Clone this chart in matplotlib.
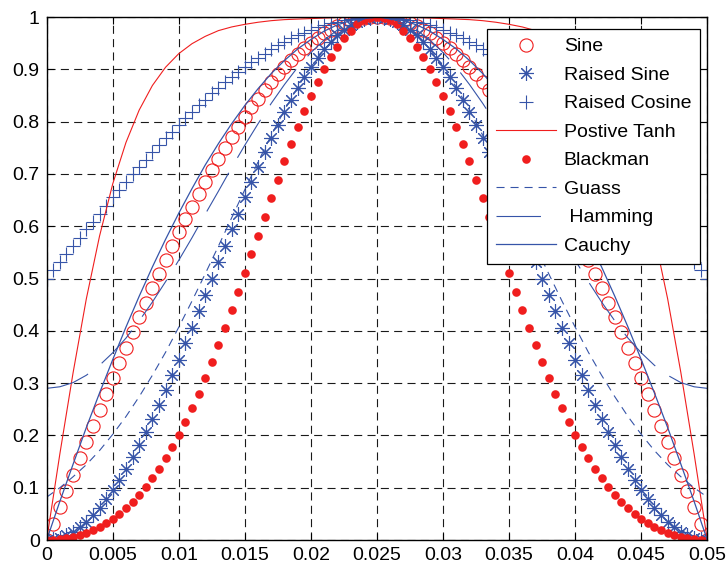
import numpy as np
import matplotlib
matplotlib.use('Agg')
import matplotlib.pyplot as plt

plt.rcParams['font.family'] = ['Liberation Sans', 'DejaVu Sans']
plt.rcParams['lines.scale_dashes'] = False

# ---- data ----
x_ticks = [0, 0.005, 0.01, 0.015, 0.02, 0.025, 0.03, 0.035, 0.04, 0.045, 0.05]
x_tick_labels = ['0', '0.005', '0.01', '0.015', '0.02', '0.025', '0.03', '0.035', '0.04', '0.045', '0.05']
y_ticks = [0, 0.1, 0.2, 0.3, 0.4, 0.5, 0.6, 0.7, 0.8, 0.9, 1.0]
y_tick_labels = ['0', '0.1', '0.2', '0.3', '0.4', '0.5', '0.6', '0.7', '0.8', '0.9', '1']

x_mark = np.linspace(0, 0.05, 101)   # marker sample positions
x_line = np.linspace(0, 0.05, 51)    # line sample positions

sine = [0.000, 0.031, 0.063, 0.094, 0.125, 0.156, 0.187, 0.218, 0.249, 0.279,
        0.309, 0.339, 0.368, 0.397, 0.426, 0.454, 0.482, 0.509, 0.536, 0.562,
        0.588, 0.613, 0.637, 0.661, 0.685, 0.707, 0.729, 0.750, 0.771, 0.790,
        0.809, 0.827, 0.844, 0.861, 0.876, 0.891, 0.905, 0.918, 0.930, 0.941,
        0.951, 0.960, 0.969, 0.976, 0.982, 0.988, 0.992, 0.996, 0.998, 1.000, 1.000,
        1.000, 0.998, 0.996, 0.992, 0.988, 0.982, 0.976, 0.969, 0.960, 0.951,
        0.941, 0.930, 0.918, 0.905, 0.891, 0.876, 0.861, 0.844, 0.827, 0.809,
        0.790, 0.771, 0.750, 0.729, 0.707, 0.685, 0.661, 0.637, 0.613, 0.588,
        0.562, 0.536, 0.509, 0.482, 0.454, 0.426, 0.397, 0.368, 0.339, 0.309,
        0.279, 0.249, 0.218, 0.187, 0.156, 0.125, 0.094, 0.063, 0.031, 0.000]

raised_sine = [0.000, 0.001, 0.004, 0.009, 0.016, 0.024, 0.035, 0.048, 0.062, 0.078,
               0.095, 0.115, 0.136, 0.158, 0.181, 0.206, 0.232, 0.259, 0.287, 0.316,
               0.345, 0.376, 0.406, 0.437, 0.469, 0.500, 0.531, 0.563, 0.594, 0.624,
               0.655, 0.684, 0.713, 0.741, 0.768, 0.794, 0.819, 0.842, 0.864, 0.885,
               0.905, 0.922, 0.938, 0.952, 0.965, 0.976, 0.984, 0.991, 0.996, 0.999, 1.000,
               0.999, 0.996, 0.991, 0.984, 0.976, 0.965, 0.952, 0.938, 0.922, 0.905,
               0.885, 0.864, 0.842, 0.819, 0.794, 0.768, 0.741, 0.713, 0.684, 0.655,
               0.624, 0.594, 0.563, 0.531, 0.500, 0.469, 0.437, 0.406, 0.376, 0.345,
               0.316, 0.287, 0.259, 0.232, 0.206, 0.181, 0.158, 0.136, 0.115, 0.095,
               0.078, 0.062, 0.048, 0.035, 0.024, 0.016, 0.009, 0.004, 0.001, 0.000]

raised_cosine = [0.500, 0.516, 0.531, 0.547, 0.563, 0.578, 0.594, 0.609, 0.624, 0.639,
                 0.655, 0.669, 0.684, 0.699, 0.713, 0.727, 0.741, 0.755, 0.768, 0.781,
                 0.794, 0.806, 0.819, 0.831, 0.842, 0.854, 0.864, 0.875, 0.885, 0.895,
                 0.905, 0.914, 0.922, 0.930, 0.938, 0.946, 0.952, 0.959, 0.965, 0.970,
                 0.976, 0.980, 0.984, 0.988, 0.991, 0.994, 0.996, 0.998, 0.999, 1.000, 1.000,
                 1.000, 0.999, 0.998, 0.996, 0.994, 0.991, 0.988, 0.984, 0.980, 0.976,
                 0.970, 0.965, 0.959, 0.952, 0.946, 0.938, 0.930, 0.922, 0.914, 0.905,
                 0.895, 0.885, 0.875, 0.864, 0.854, 0.842, 0.831, 0.819, 0.806, 0.794,
                 0.781, 0.768, 0.755, 0.741, 0.727, 0.713, 0.699, 0.684, 0.669, 0.655,
                 0.639, 0.624, 0.609, 0.594, 0.578, 0.563, 0.547, 0.531, 0.516, 0.500]

blackman = [0.000, 0.000, 0.001, 0.003, 0.006, 0.009, 0.013, 0.019, 0.025, 0.032,
            0.040, 0.050, 0.061, 0.073, 0.086, 0.101, 0.118, 0.136, 0.156, 0.178,
            0.201, 0.226, 0.252, 0.280, 0.309, 0.340, 0.372, 0.405, 0.439, 0.474,
            0.510, 0.546, 0.582, 0.618, 0.654, 0.689, 0.724, 0.757, 0.790, 0.820,
            0.849, 0.876, 0.901, 0.923, 0.943, 0.960, 0.974, 0.986, 0.994, 0.998, 1.000,
            0.998, 0.994, 0.986, 0.974, 0.960, 0.943, 0.923, 0.901, 0.876, 0.849,
            0.820, 0.790, 0.757, 0.724, 0.689, 0.654, 0.618, 0.582, 0.546, 0.510,
            0.474, 0.439, 0.405, 0.372, 0.340, 0.309, 0.280, 0.252, 0.226, 0.201,
            0.178, 0.156, 0.136, 0.118, 0.101, 0.086, 0.073, 0.061, 0.050, 0.040,
            0.032, 0.025, 0.019, 0.013, 0.009, 0.006, 0.003, 0.001, 0.000, 0.000]

pos_tanh = [0.000, 0.165, 0.320, 0.461, 0.581, 0.681, 0.760, 0.822, 0.869, 0.904,
            0.930, 0.949, 0.963, 0.974, 0.981, 0.986, 0.990, 0.993, 0.995, 0.996,
            0.997, 0.998, 0.999, 0.999, 0.999, 1.000,
            0.999, 0.999, 0.999, 0.998, 0.997, 0.996, 0.995, 0.993, 0.990, 0.986,
            0.981, 0.974, 0.963, 0.949, 0.930, 0.904, 0.869, 0.822, 0.760, 0.681,
            0.581, 0.461, 0.320, 0.165, 0.000]

gauss = [0.082, 0.100, 0.121, 0.144, 0.171, 0.202, 0.236, 0.274, 0.315, 0.359,
         0.407, 0.457, 0.509, 0.562, 0.616, 0.670, 0.723, 0.774, 0.822, 0.866,
         0.905, 0.938, 0.965, 0.984, 0.996, 1.000,
         0.996, 0.984, 0.965, 0.938, 0.905, 0.866, 0.822, 0.774, 0.723, 0.670,
         0.616, 0.562, 0.509, 0.457, 0.407, 0.359, 0.315, 0.274, 0.236, 0.202,
         0.171, 0.144, 0.121, 0.100, 0.082]

hamming = [0.290, 0.293, 0.301, 0.315, 0.334, 0.358, 0.386, 0.419, 0.455, 0.494,
           0.535, 0.578, 0.623, 0.667, 0.712, 0.755, 0.796, 0.835, 0.871, 0.904,
           0.932, 0.956, 0.975, 0.989, 0.997, 1.000,
           0.997, 0.989, 0.975, 0.956, 0.932, 0.904, 0.871, 0.835, 0.796, 0.755,
           0.712, 0.667, 0.623, 0.578, 0.535, 0.494, 0.455, 0.419, 0.386, 0.358,
           0.334, 0.315, 0.301, 0.293, 0.290]

cauchy = [0.000, 0.074, 0.145, 0.215, 0.281, 0.345, 0.407, 0.466, 0.522, 0.575,
          0.625, 0.672, 0.717, 0.758, 0.796, 0.831, 0.863, 0.892, 0.917, 0.939,
          0.957, 0.973, 0.985, 0.993, 0.998, 1.000,
          0.998, 0.993, 0.985, 0.973, 0.957, 0.939, 0.917, 0.892, 0.863, 0.831,
          0.796, 0.758, 0.717, 0.672, 0.625, 0.575, 0.522, 0.466, 0.407, 0.345,
          0.281, 0.215, 0.145, 0.074, 0.000]

RED = '#F01E1E'
BLUE = '#3654A8'

fig = plt.figure(figsize=(7.27, 5.67), dpi=100)
ax = fig.add_axes([0.0642, 0.0476, 0.9087, 0.9224])

ax.plot(x_mark, sine, ls='none', marker='o', mfc='none', mec=RED, ms=9.5, mew=0.8, label='Sine')
ax.plot(x_mark, raised_sine, ls='none', marker=(8, 2, 0), mec=BLUE, mfc=BLUE, ms=10.5, mew=0.8, label='Raised Sine')
ax.plot(x_mark, raised_cosine, ls='none', marker='+', mec=BLUE, ms=10, mew=0.8, label='Raised Cosine')
ax.plot(x_line, pos_tanh, color=RED, lw=0.8, label='Postive Tanh')
ax.plot(x_mark, blackman, ls='none', marker='o', mfc=RED, mec=RED, ms=6.2, mew=0, label='Blackman')
ax.plot(x_line, gauss, color=BLUE, lw=0.8, ls=(0, (5.8, 4.3)), label='Guass')
ax.plot(x_line, hamming, color=BLUE, lw=0.8, ls=(0, (32, 12.5)), label=' Hamming')
ax.plot(x_line, cauchy, color=BLUE, lw=0.9, label='Cauchy')

ax.set_xlim(0, 0.05)
ax.set_ylim(0, 1)
ax.set_xticks(x_ticks)
ax.set_xticklabels(x_tick_labels)
ax.set_yticks(y_ticks)
ax.set_yticklabels(y_tick_labels)
ax.tick_params(direction='in', length=5, width=0.8, top=True, right=True,
               labelsize=14, pad=5)
ax.grid(True, color='#1a1a1a', lw=0.8, ls=(0, (5.8, 3.8)))
ax.set_axisbelow(True)
for sp in ax.spines.values():
    sp.set_linewidth(1.0)
    sp.set_color('black')

leg = ax.legend(loc='upper right', bbox_to_anchor=(0.989, 0.977), borderaxespad=0,
                fontsize=14, labelspacing=0.56, handlelength=3.1, handletextpad=0.4,
                borderpad=0.45, fancybox=False, framealpha=1, edgecolor='black')
leg.get_frame().set_linewidth(0.9)

fig.savefig('out.png', dpi=100)
